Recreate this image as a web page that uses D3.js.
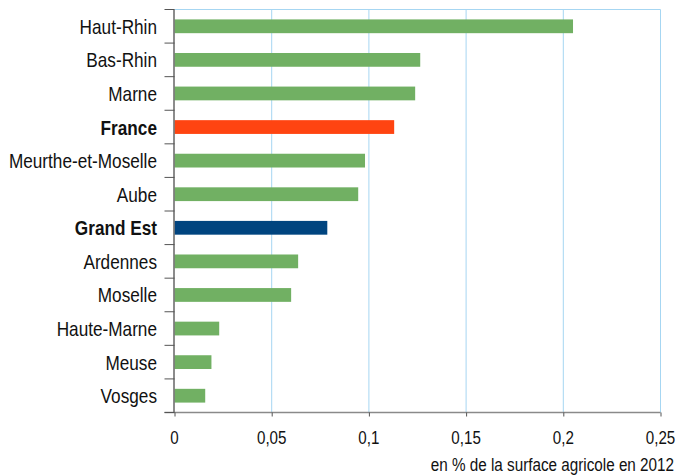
<!DOCTYPE html>
<html>
<head>
<meta charset="utf-8">
<script src="https://cdn.jsdelivr.net/npm/d3@7"></script>
<style>
  html, body { margin: 0; padding: 0; background: #fff; }
  svg text { font-family: "Liberation Sans", Arial, Helvetica, sans-serif; fill: #111; }
</style>
</head>
<body>
<svg id="chart" width="677" height="475"></svg>
<script>
const categories = ["Haut-Rhin", "Bas-Rhin", "Marne", "France", "Meurthe-et-Moselle", "Aube", "Grand Est", "Ardennes", "Moselle", "Haute-Marne", "Meuse", "Vosges"];
const values = [0.205, 0.1264, 0.1238, 0.113, 0.098, 0.0945, 0.0786, 0.0636, 0.060, 0.023, 0.019, 0.0158];
const highlight = { "France": "#FF4411", "Grand Est": "#00447F" };
const xTicks = [0, 0.05, 0.1, 0.15, 0.2, 0.25];
const xTickLabels = ["0", "0,05", "0,1", "0,15", "0,2", "0,25"];
const axisTitle = "en % de la surface agricole en 2012";

const svg = d3.select("#chart");
const m = { left: 174.5, right: 660.5, top: 9.5, bottom: 412.5 };

const x = d3.scaleLinear().domain([0, 0.25]).range([m.left, m.right]);
const y = d3.scaleBand().domain(categories).range([m.top, m.bottom]).paddingInner(0.59).paddingOuter(0.295);

// gridlines
svg.append("g").selectAll("line").data(xTicks.slice(1)).join("line")
  .attr("x1", d => x(d)).attr("x2", d => x(d))
  .attr("y1", m.top).attr("y2", m.bottom)
  .attr("stroke", "#A6D6F2").attr("stroke-width", 1);
svg.append("line").attr("x1", m.left).attr("x2", m.right).attr("y1", m.top).attr("y2", m.top)
  .attr("stroke", "#A6D6F2").attr("stroke-width", 1);

// bars
svg.append("g").selectAll("rect").data(categories).join("rect")
  .attr("x", x(0))
  .attr("y", d => y(d))
  .attr("width", (d, i) => x(values[i]) - x(0))
  .attr("height", y.bandwidth())
  .attr("fill", d => highlight[d] || "#71B063");

// x axis
const xAxis = d3.axisBottom(x).tickValues(xTicks).tickSize(4).tickFormat("");
const gx = svg.append("g").attr("transform", `translate(0,${m.bottom})`).call(xAxis);
gx.select(".domain").attr("stroke", "#8a8a8a").attr("stroke-width", 1.5).attr("d", `M${m.left - 10},0H${m.right}`);
gx.selectAll(".tick line").attr("stroke", "#555");

svg.append("g").selectAll("g").data(xTicks).join("g")
  .attr("transform", d => `translate(${x(d)},443.5) scale(0.82,1)`)
  .append("text").attr("text-anchor", "middle").style("font-size", "18.5px")
  .text((d, i) => xTickLabels[i]);

// y axis line and ticks at band boundaries
svg.append("line").attr("x1", m.left - 0.5).attr("x2", m.left - 0.5).attr("y1", m.top).attr("y2", m.bottom)
  .attr("stroke", "#666").attr("stroke-width", 1.5);
const bounds = d3.range(categories.length + 1).map(i => m.top + i * (m.bottom - m.top) / categories.length);
svg.append("g").selectAll("line").data(bounds).join("line")
  .attr("x1", m.left - 10).attr("x2", m.left).attr("y1", d => d).attr("y2", d => d)
  .attr("stroke", "#555").attr("stroke-width", 1);

// category labels
svg.append("g").selectAll("g").data(categories).join("g")
  .attr("transform", d => `translate(157,${y(d) + y.bandwidth() / 2 + 7.5}) scale(0.86,1)`)
  .append("text").attr("text-anchor", "end").style("font-size", "20px")
  .style("font-weight", d => highlight[d] ? "bold" : "normal")
  .text(d => d);

// axis title
svg.append("g").attr("transform", `translate(674,470.5) scale(0.825,1)`)
  .append("text").attr("text-anchor", "end").style("font-size", "18.5px").text(axisTitle);
</script>
</body>
</html>
